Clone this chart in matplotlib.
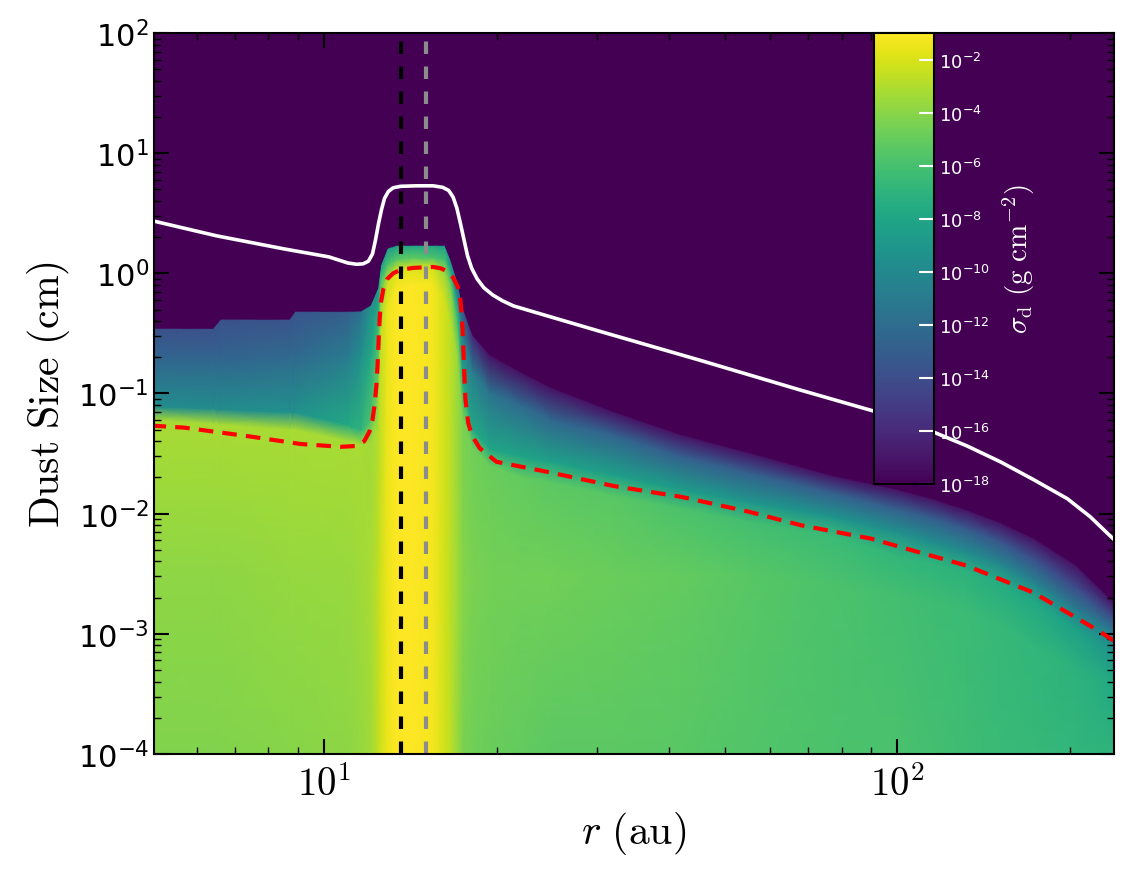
import numpy as np
import matplotlib
matplotlib.use('Agg')
import matplotlib.pyplot as plt
from matplotlib.colors import LogNorm
from matplotlib.ticker import LogLocator, NullFormatter

plt.rcParams['mathtext.fontset'] = 'cm'

# --- dust size distribution, read off column by column (r in au, a in cm) ---
# each column: size nodes going up, and log10(sigma_d) at each node
r_col = np.array([5.0, 6.4, 6.6, 8.7, 8.9, 11.0, 11.6, 12.05, 12.4, 12.55, 12.9,
                  13.4, 14.3, 15.5, 16.25, 16.6, 17.1, 17.5, 18.2, 19.5, 22.0,
                  25.0, 32.0, 42.0, 55.0, 77.0, 100.0, 115.0, 132.0, 150.0, 173.0,
                  205.0, 240.0])

a_mid = np.array([3e-3, 3e-3, 3e-3, 3e-3, 3e-3, 3e-3, 3e-3, 3e-3, 3e-3, 3e-3, 3e-3,
                  3e-3, 3e-3, 3e-3, 3e-3, 3e-3, 3e-3, 3e-3, 3e-3, 3e-3, 3e-3,
                  3e-3, 3e-3, 3e-3, 3e-3, 2.5e-3, 2e-3, 1.8e-3, 1.5e-3, 1.2e-3, 8e-4,
                  5e-4, 4e-4])
a_lo = np.array([0.06, 0.056, 0.055, 0.05, 0.05, 0.04, 0.038, 0.04, 0.05, 0.3, 0.5,
                 0.7, 0.8, 0.8, 0.6, 0.4, 0.2, 0.06, 0.035, 0.025, 0.02,
                 0.018, 0.014, 0.011, 0.0085, 0.0065, 0.0045, 0.0039, 0.0033, 0.0027, 0.0019,
                 0.0011, 7e-4])
a_hi = np.array([0.078, 0.075, 0.074, 0.07, 0.07, 0.055, 0.05, 0.06, 0.1, 0.6, 0.85,
                 1.05, 1.1, 1.13, 1.0, 0.8, 0.4, 0.12, 0.05, 0.035, 0.03,
                 0.027, 0.021, 0.016, 0.0125, 0.0095, 0.007, 0.0058, 0.0048, 0.0039, 0.0027,
                 0.0016, 1e-3])
a_band = np.array([0.2, 0.2, 0.2, 0.2, 0.2, 0.2, 0.2, 0.2, 0.4, 0.9, 1.2,
                   1.3, 1.35, 1.35, 1.3, 1.1, 0.6, 0.3, 0.15, 0.1, 0.08,
                   0.06, 0.045, 0.03, 0.022, 0.015, 0.011, 0.0092, 0.0075, 0.006, 0.0042,
                   0.0025, 0.0013])
a_top = np.array([0.344, 0.344, 0.41, 0.41, 0.477, 0.477, 0.48, 0.536, 0.74, 1.15, 1.6,
                  1.69, 1.69, 1.69, 1.69, 1.32, 0.85, 0.5, 0.3, 0.206, 0.15,
                  0.11, 0.07, 0.045, 0.032, 0.0206, 0.0158, 0.0132, 0.0107, 0.0085, 0.0062,
                  0.0037, 0.00178])

ls_bot = np.array([-4.2, -4.2, -4.2, -4.1, -4.1, -3.9, -3.7, -3.4, -2.7, -2.2, -1.5,
                   -1.0, -1.0, -1.3, -2.2, -2.7, -3.6, -4.4, -4.7, -4.9, -5.1,
                   -5.3, -5.3, -5.4, -5.6, -5.8, -5.9, -6.1, -6.3, -6.45, -6.6,
                   -6.8, -7.0])
ls_mid = np.array([-3.9, -3.9, -3.9, -3.7, -3.7, -3.6, -3.4, -3.2, -2.7, -2.2, -1.5,
                   -1.0, -1.0, -1.3, -2.2, -2.7, -3.4, -4.1, -4.4, -4.6, -4.7,
                   -4.7, -4.9, -5.1, -5.4, -5.8, -6.1, -6.25, -6.4, -6.6, -6.8,
                   -7.1, -7.8])
ls_lo = np.array([-3.2, -3.2, -3.2, -3.2, -3.2, -3.2, -3.2, -3.4, -3.0, -2.7, -1.5,
                  -1.0, -1.0, -1.3, -2.2, -2.7, -3.6, -4.4, -4.7, -4.9, -5.1,
                  -5.3, -5.4, -5.8, -6.1, -6.4, -6.8, -6.95, -7.1, -7.45, -7.8,
                  -8.3, -9.2])
ls_hi = np.array([-9.8, -9.8, -9.8, -9.5, -9.5, -7.8, -7.0, -5.8, -4.4, -3.6, -2.4,
                  -1.9, -1.9, -2.2, -3.6, -4.4, -6.1, -7.8, -7.8, -8.1, -8.1,
                  -8.3, -8.5, -8.7, -9.0, -9.2, -9.5, -9.65, -9.8, -10.1, -10.4,
                  -10.9, -10.9])
ls_band = np.array([-12.6, -12.6, -12.6, -12.2, -12.2, -10.9, -9.5, -7.8, -7.0, -6.1, -6.1,
                    -5.3, -5.3, -5.8, -6.1, -7.8, -9.5, -11.2, -10.9, -11.5, -12.1,
                    -12.4, -12.6, -12.9, -12.9, -12.9, -12.9, -13.0, -13.2, -13.5, -13.8,
                    -14.3, -13.8])
ls_top = np.array([-13.8, -13.8, -13.8, -13.6, -13.6, -12.9, -11.5, -9.5, -9.5, -8.7, -8.7,
                   -8.1, -7.8, -7.8, -8.7, -9.5, -12.1, -13.8, -16.3, -17.2, -17.2,
                   -17.2, -17.2, -17.2, -17.2, -17.2, -17.2, -17.2, -17.2, -17.2, -17.2,
                   -17.2, -17.2])
ls_empty = -20.0   # no dust above the size cut-off

# --- white solid curve ---
white_r = [5.0, 6.5, 8.5, 10.2, 11.0, 11.4, 11.7, 11.95, 12.15, 12.3, 12.45, 12.6, 12.75,
           12.95, 13.2, 13.6, 14.5, 15.5, 16.1, 16.5, 16.8, 17.05, 17.3, 17.55, 17.8, 18.1,
           18.5, 19.0, 19.7, 20.5, 21.4, 24.5, 30.3, 45.3, 67.7, 90.8, 115.6, 132.4, 151.4,
           172.6, 198.2, 217.3, 239.3]
white_a = [2.75, 2.05, 1.60, 1.37, 1.22, 1.19, 1.20, 1.26, 1.45, 1.9, 2.6, 3.4, 4.2,
           4.8, 5.15, 5.3, 5.35, 5.35, 5.2, 4.9, 4.3, 3.5, 2.6, 1.9, 1.4, 1.1,
           0.9, 0.76, 0.66, 0.59, 0.536, 0.443, 0.329, 0.189, 0.107, 0.0716, 0.0479, 0.0366,
           0.027, 0.0193, 0.0133, 0.0094, 0.00605]

# --- red dashed curve ---
red_r = [5.0, 5.7, 7.4, 9.1, 10.7, 11.4, 11.75, 12.0, 12.15, 12.25, 12.35, 12.42, 12.48,
         12.55, 12.7, 12.9, 13.2, 13.6, 14.3, 15.5, 16.0, 16.4, 16.8, 17.1, 17.3, 17.45,
         17.55, 17.65, 17.85, 18.1, 18.7, 20.0, 24.5, 32.0, 42.0, 55.0, 68.0, 90.0, 101.0,
         132.0, 173.0, 226.0, 240.0]
red_a = [0.054, 0.052, 0.044, 0.038, 0.036, 0.0366, 0.040, 0.048, 0.06, 0.08, 0.12, 0.2,
         0.35, 0.55, 0.75, 0.9, 1.0, 1.07, 1.11, 1.13, 1.1, 1.04, 0.92, 0.78, 0.6, 0.35,
         0.17, 0.09, 0.057, 0.045, 0.035, 0.027, 0.0223, 0.017, 0.0138, 0.0104, 0.0080,
         0.0062, 0.0053, 0.0037, 0.0022, 0.00104, 0.00086]

r_black = 13.6
r_gray = 15.05

# --- build the curvilinear mesh ---
ones = np.ones_like(r_col)
A = np.vstack([1e-4 * ones, a_mid, a_lo, a_hi, a_band, a_top, a_top * 1.02, 1e2 * ones])
S = np.vstack([ls_bot, ls_mid, ls_lo, ls_hi, ls_band, ls_top,
               ls_empty * ones, ls_empty * ones])
R = np.tile(r_col, (A.shape[0], 1))

fig = plt.figure(figsize=(11.27, 8.79), dpi=100)
ax = fig.add_axes([0.1366, 0.1411, 0.8519, 0.8202])
ax.set_xscale('log')
ax.set_yscale('log')

norm = LogNorm(vmin=1e-18, vmax=1e-1)
mesh = ax.pcolormesh(R, A, 10.0 ** S, cmap='viridis', norm=norm, shading='gouraud')

ax.plot(white_r, white_a, color='white', lw=2.6)
ax.plot(red_r, red_a, color='red', lw=3, ls=(0, (3.5, 2.2)))
ax.axvline(r_black, color='black', lw=3, ls=(0, (3, 3)))
ax.axvline(r_gray, color='#8c8c8c', lw=3, ls=(0, (3, 3)))

ax.set_xlim(5.05, 239)
ax.set_ylim(1e-4, 1e2)

# ticks
yt = [1e-4, 1e-3, 1e-2, 1e-1, 1e0, 1e1, 1e2]
ax.set_yticks(yt, labels=[r'$\mathregular{10^{%d}}$' % e for e in range(-4, 3)])
ax.yaxis.set_minor_locator(LogLocator(base=10, subs=np.arange(2, 10)))
ax.yaxis.set_minor_formatter(NullFormatter())
ax.set_xticks([10, 100], labels=[r'$10^{1}$', r'$10^{2}$'])
ax.xaxis.set_minor_locator(LogLocator(base=10, subs=np.arange(2, 10)))
ax.xaxis.set_minor_formatter(NullFormatter())
ax.tick_params(which='both', direction='in', top=True, right=True, width=1.5)
ax.tick_params(which='major', length=11)
ax.tick_params(which='minor', length=5, width=1)
ax.tick_params(axis='y', labelsize=22)
ax.tick_params(axis='x', labelsize=28, pad=8)
for s in ax.spines.values():
    s.set_linewidth(1.5)

ax.set_xlabel(r'$r\ \mathrm{(au)}$', fontsize=30)
ax.set_ylabel(r'$\mathrm{Dust\ Size\ (cm)}$', fontsize=30)

# --- inset colorbar ---
cax = ax.inset_axes([0.75, 0.375, 0.0625, 0.625])
cb = fig.colorbar(mesh, cax=cax)
ct = [10.0 ** e for e in range(-18, -1, 2)]
cb.set_ticks(ct, labels=[r'$\mathregular{10^{%d}}$' % e for e in range(-18, -1, 2)])
cb.ax.minorticks_off()
cb.ax.tick_params(direction='in', color='white', length=11, width=1.5,
                  labelcolor='white', labelsize=13)
cb.outline.set_linewidth(1.5)
cb.set_label(r'$\sigma_{\rm d}\ (\mathrm{g\ cm^{-2}})$', color='white', fontsize=21, labelpad=8)

fig.savefig('out.png', dpi=100)
